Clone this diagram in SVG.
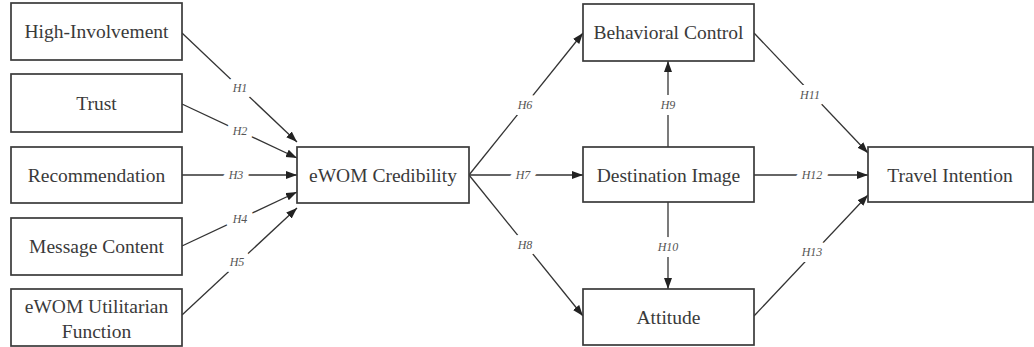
<svg xmlns="http://www.w3.org/2000/svg" width="1034" height="347" viewBox="0 0 1034 347">
<style>
.box{fill:#fff;stroke:#3a3a3a;stroke-width:1.7}
.nt{font-family:"Liberation Serif","Times New Roman",serif;font-size:19.5px;fill:#3a3a3a;text-anchor:middle}
.ln{stroke:#333;stroke-width:1.3;fill:none;marker-end:url(#ah)}
.lb{font-family:"Liberation Serif","Times New Roman",serif;font-style:italic;font-size:12px;fill:#555;text-anchor:middle;stroke:#fff;stroke-width:12;paint-order:stroke;stroke-linejoin:round}
</style>
<defs>
<marker id="ah" markerWidth="12" markerHeight="10" refX="11" refY="4" orient="auto" markerUnits="userSpaceOnUse">
<path d="M0,0 L11,4 L0,8 Z" fill="#222"/>
</marker>
</defs>
<rect width="1034" height="347" fill="#fff"/>
<g id="connectors">
<path class="ln" d="M182,33 L297,142"/>
<path class="ln" d="M182,104 L297,158"/>
<path class="ln" d="M182,175 L297,175"/>
<path class="ln" d="M182,246 L297,192"/>
<path class="ln" d="M182,315 L297,208"/>
<path class="ln" d="M469,175 L583,33"/>
<path class="ln" d="M469,175 L583,175"/>
<path class="ln" d="M469,175 L583,316"/>
<path class="ln" d="M668,147 L668,61"/>
<path class="ln" d="M668,202 L668,289"/>
<path class="ln" d="M754,33 L868,153"/>
<path class="ln" d="M754,175 L868,175"/>
<path class="ln" d="M754,316 L868,195"/>
<text class="lb" x="240" y="92">H1</text>
<text class="lb" x="240" y="135">H2</text>
<text class="lb" x="236" y="179">H3</text>
<text class="lb" x="240" y="223">H4</text>
<text class="lb" x="237" y="266">H5</text>
<text class="lb" x="525" y="109">H6</text>
<text class="lb" x="523" y="179">H7</text>
<text class="lb" x="525" y="249">H8</text>
<text class="lb" x="668" y="109">H9</text>
<text class="lb" x="668" y="251">H10</text>
<text class="lb" x="810" y="99">H11</text>
<text class="lb" x="812" y="179">H12</text>
<text class="lb" x="812" y="256">H13</text>
</g>
<g id="high-involvement"><rect class="box" x="11" y="3" width="171" height="57"/><text class="nt" x="96.5" y="38">High-Involvement</text></g>
<g id="trust"><rect class="box" x="11" y="74" width="171" height="58"/><text class="nt" x="96.5" y="110">Trust</text></g>
<g id="recommendation"><rect class="box" x="11" y="147" width="171" height="56"/><text class="nt" x="96.5" y="182">Recommendation</text></g>
<g id="message-content"><rect class="box" x="11" y="218" width="171" height="57"/><text class="nt" x="96.5" y="253">Message Content</text></g>
<g id="ewom-utilitarian"><rect class="box" x="11" y="289" width="171" height="57"/><text class="nt" x="96.5" y="313">eWOM Utilitarian</text><text class="nt" x="96.5" y="338">Function</text></g>
<g id="ewom-credibility"><rect class="box" x="297" y="147" width="172" height="56"/><text class="nt" x="383" y="182">eWOM Credibility</text></g>
<g id="behavioral-control"><rect class="box" x="583" y="4" width="171" height="57"/><text class="nt" x="668.5" y="39">Behavioral Control</text></g>
<g id="destination-image"><rect class="box" x="583" y="147" width="171" height="55"/><text class="nt" x="668.5" y="182">Destination Image</text></g>
<g id="attitude"><rect class="box" x="583" y="289" width="171" height="56"/><text class="nt" x="668.5" y="324">Attitude</text></g>
<g id="travel-intention"><rect class="box" x="868" y="147" width="165" height="55"/><text class="nt" x="950" y="182">Travel Intention</text></g>
</svg>
